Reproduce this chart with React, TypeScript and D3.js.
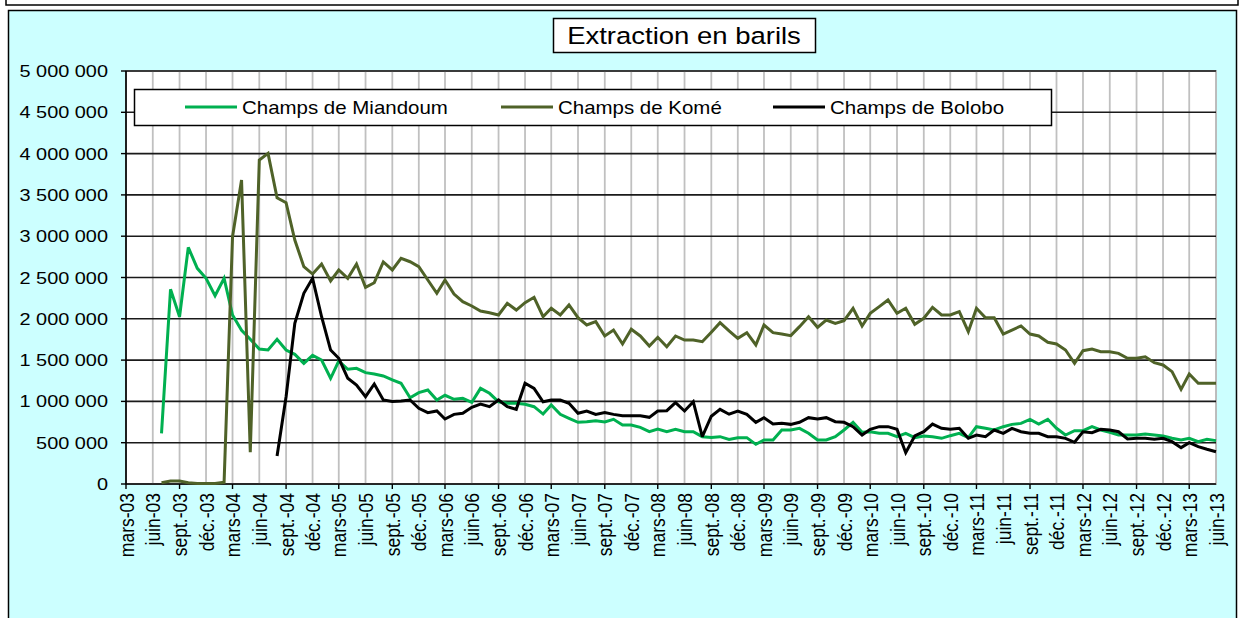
import React from 'react';
import * as d3 from 'd3';

// monthly extraction, in barrels, from mars-03 to juin-13 (null = no production)
const miandoum = [
  null, null, null, null, 614000, 2357000, 2025000, 2865000, 2611000, 2490000,
  2280000, 2490000, 2046000, 1861000, 1752000, 1634000, 1622000, 1752000, 1622000, 1570000,
  1461000, 1558000, 1501000, 1280000, 1489000, 1389000, 1401000, 1348000, 1332000, 1308000,
  1260000, 1219000, 1045000, 1106000, 1138000, 1017000, 1074000, 1025000, 1037000, 989000,
  1158000, 1098000, 996000, 977000, 977000, 965000, 936000, 847000, 956000, 843000,
  795000, 747000, 754000, 767000, 751000, 783000, 714000, 714000, 686000, 633000,
  666000, 633000, 662000, 633000, 633000, 573000, 563000, 573000, 540000, 561000,
  561000, 480000, 533000, 533000, 654000, 654000, 674000, 614000, 533000, 533000,
  573000, 654000, 747000, 626000, 633000, 614000, 614000, 573000, 614000, 561000,
  581000, 573000, 553000, 585000, 614000, 561000, 694000, 674000, 654000, 694000,
  722000, 734000, 783000, 726000, 783000, 674000, 593000, 646000, 646000, 694000,
  654000, 626000, 593000, 593000, 593000, 605000, 593000, 581000, 553000, 533000,
  553000, 512000, 541000, 525000,
];

const kome = [
  null, null, null, null, 16000, 35000, 35000, 15000, 5000, 5000,
  5000, 20000, 2994000, 3680000, 384000, 3922000, 4003000, 3466000, 3406000, 2954000,
  2631000, 2542000, 2663000, 2458000, 2591000, 2490000, 2663000, 2381000, 2437000, 2688000,
  2591000, 2732000, 2691000, 2631000, 2470000, 2309000, 2470000, 2300000, 2207000, 2155000,
  2094000, 2074000, 2046000, 2187000, 2106000, 2195000, 2260000, 2025000, 2127000, 2046000,
  2167000, 2013000, 1925000, 1965000, 1792000, 1864000, 1695000, 1873000, 1792000, 1671000,
  1776000, 1662000, 1792000, 1743000, 1743000, 1723000, 1838000, 1953000, 1854000, 1764000,
  1832000, 1683000, 1925000, 1832000, 1816000, 1796000, 1905000, 2025000, 1897000, 1985000,
  1945000, 1977000, 2127000, 1913000, 2066000, 2147000, 2228000, 2066000, 2127000, 1933000,
  2006000, 2139000, 2046000, 2046000, 2086000, 1844000, 2127000, 2013000, 2013000, 1816000,
  1864000, 1913000, 1816000, 1792000, 1715000, 1695000, 1622000, 1461000, 1614000, 1634000,
  1602000, 1602000, 1582000, 1522000, 1522000, 1541000, 1469000, 1441000, 1360000, 1146000,
  1332000, 1219000, 1219000, 1219000,
];

const bolobo = [
  null, null, null, null, null, null, null, null, null, null,
  null, null, null, null, null, null, null, 339000, 1057000, 1945000,
  2309000, 2490000, 2025000, 1622000, 1522000, 1280000, 1199000, 1057000, 1211000, 1017000,
  1000000, 1005000, 1017000, 916000, 864000, 884000, 787000, 843000, 856000, 928000,
  968000, 936000, 1017000, 936000, 904000, 1219000, 1158000, 996000, 1017000, 1017000,
  977000, 856000, 884000, 843000, 864000, 843000, 827000, 827000, 827000, 807000,
  884000, 888000, 985000, 884000, 996000, 573000, 820000, 904000, 845000, 884000,
  843000, 747000, 803000, 726000, 734000, 722000, 747000, 803000, 787000, 803000,
  754000, 747000, 694000, 593000, 662000, 694000, 694000, 662000, 379000, 581000,
  633000, 726000, 674000, 662000, 674000, 553000, 593000, 573000, 654000, 614000,
  674000, 633000, 614000, 614000, 573000, 573000, 553000, 505000, 633000, 622000,
  662000, 654000, 633000, 545000, 553000, 553000, 541000, 553000, 512000, 440000,
  500000, 452000, 420000, 391000,
];

const seriesNames = ['Champs de Miandoum', 'Champs de Komé', 'Champs de Bolobo'];
const seriesColors = ['#00B050', '#4F6228', '#000000'];
const monthNames = ['janv.', 'févr.', 'mars', 'avr.', 'mai', 'juin', 'juil.', 'août', 'sept.', 'oct.', 'nov.', 'déc.'];
const yTicks = [0, 500000, 1000000, 1500000, 2000000, 2500000, 3000000, 3500000, 4000000, 4500000, 5000000];
const title = 'Extraction en barils';

const STRETCH = 1.17;

const App = () => {
  const ref = React.useRef(null);
  React.useEffect(() => {
    const W = 1240, H = 618;
    const left = 126, right = 1216, top = 71, bottom = 484;
    const font = 'Arial, "Liberation Sans", sans-serif';

    const root = d3.select(ref.current);
    root.selectAll('*').remove();
    const svg = root.append('svg')
      .attr('width', W)
      .attr('height', H)
      .style('display', 'block');

    const start = new Date(2003, 2, 1);
    const end = new Date(2013, 5, 1);
    const stop = d3.timeMonth.offset(end, 1);
    const months = d3.timeMonth.range(start, stop);

    const x = d3.scaleTime().domain([start, end]).range([left, right]);
    const y = d3.scaleLinear().domain([0, 5000000]).range([bottom, top]);

    const fr = d3.formatLocale({ decimal: ',', thousands: '\u00a0', grouping: [3], currency: ['', ' €'] });
    const fmt = fr.format(',');
    const fmtMonth = (d) => `${monthNames[d.getMonth()]}-${String(d.getFullYear()).slice(2)}`;

    // outer frames
    svg.append('rect').attr('x', 6).attr('y', -20).attr('width', 1232).attr('height', 25)
      .attr('fill', '#fff').attr('stroke', '#000').attr('stroke-width', 1.5);
    svg.append('rect').attr('x', 8.5).attr('y', 10.5).attr('width', 1228).attr('height', 650)
      .attr('fill', '#CCFFFF').attr('stroke', '#000').attr('stroke-width', 1.5);

    // plot area
    svg.append('rect').attr('x', left).attr('y', top).attr('width', right - left).attr('height', bottom - top)
      .attr('fill', '#fff').attr('stroke', '#808080').attr('stroke-width', 1.5);

    // quarters counted from mars-03, half-years for the axis ticks
    const quarters = d3.timeMonth.range(start, stop, 3);
    const halves = d3.timeMonth.range(start, stop, 6);

    svg.append('g').selectAll('line')
      .data(quarters.filter((d) => +d !== +start))
      .join('line')
      .attr('x1', (d) => x(d)).attr('x2', (d) => x(d))
      .attr('y1', top).attr('y2', bottom)
      .attr('stroke', '#C0C0C0').attr('stroke-width', 1.8);

    svg.append('g').selectAll('line')
      .data(yTicks.filter((v) => v > 0))
      .join('line')
      .attr('x1', left).attr('x2', right)
      .attr('y1', (d) => y(d)).attr('y2', (d) => y(d))
      .attr('stroke', '#1a1a1a').attr('stroke-width', 1.6);

    // axes
    svg.append('line').attr('x1', left).attr('x2', left).attr('y1', top).attr('y2', bottom)
      .attr('stroke', '#000').attr('stroke-width', 1.6);
    svg.append('line').attr('x1', left).attr('x2', right).attr('y1', bottom).attr('y2', bottom)
      .attr('stroke', '#000').attr('stroke-width', 1.6);

    svg.append('g').selectAll('line')
      .data(yTicks)
      .join('line')
      .attr('x1', left - 5).attr('x2', left)
      .attr('y1', (d) => y(d)).attr('y2', (d) => y(d))
      .attr('stroke', '#000').attr('stroke-width', 1.4);

    svg.append('g').selectAll('line')
      .data(halves)
      .join('line')
      .attr('x1', (d) => x(d)).attr('x2', (d) => x(d))
      .attr('y1', bottom).attr('y2', bottom + 5)
      .attr('stroke', '#000').attr('stroke-width', 1.4);

    svg.append('g').selectAll('text')
      .data(yTicks)
      .join('text')
      .attr('transform', (d) => `translate(108,${y(d) + 6}) scale(${STRETCH},1)`)
      .attr('text-anchor', 'end')
      .style('font-family', font)
      .style('font-size', '17px')
      .attr('fill', '#000')
      .text((d) => fmt(d));

    svg.append('g').selectAll('text')
      .data(quarters)
      .join('text')
      .attr('transform', (d) => `translate(${x(d)},493) scale(1.2,1) rotate(-90)`)
      .attr('text-anchor', 'end')
      .attr('dy', '0.36em')
      .style('font-family', font)
      .style('font-size', '17.5px')
      .attr('fill', '#000')
      .text((d) => fmtMonth(d));

    // series
    const allSeries = [miandoum, kome, bolobo];
    const line = d3.line()
      .defined((d) => d[1] != null)
      .x((d) => x(d[0]))
      .y((d) => y(d[1]));

    svg.append('g').selectAll('path')
      .data(allSeries)
      .join('path')
      .attr('d', (s) => line(months.map((m, i) => [m, s[i]])))
      .attr('fill', 'none')
      .attr('stroke', (_, i) => seriesColors[i])
      .attr('stroke-width', 3)
      .attr('stroke-linejoin', 'miter')
      .attr('stroke-miterlimit', 3);

    // legend
    const lg = svg.append('g');
    lg.append('rect').attr('x', 134.5).attr('y', 89.5).attr('width', 917).attr('height', 36)
      .attr('fill', '#fff').attr('stroke', '#000').attr('stroke-width', 1.5);
    const legendX = [185, 501, 773];
    seriesNames.forEach((name, i) => {
      lg.append('line')
        .attr('x1', legendX[i]).attr('x2', legendX[i] + 52)
        .attr('y1', 107).attr('y2', 107)
        .attr('stroke', seriesColors[i]).attr('stroke-width', 3);
      lg.append('text')
        .attr('transform', `translate(${legendX[i] + 57},113.5) scale(${STRETCH},1)`)
        .style('font-family', font)
        .style('font-size', '17.5px')
        .attr('fill', '#000')
        .text(name);
    });

    // title
    svg.append('rect').attr('x', 553.5).attr('y', 18.5).attr('width', 262).attr('height', 34)
      .attr('fill', '#fff').attr('stroke', '#000').attr('stroke-width', 1.5);
    svg.append('text')
      .attr('transform', `translate(684,43.5) scale(${STRETCH},1)`)
      .attr('text-anchor', 'middle')
      .style('font-family', font)
      .style('font-size', '23.5px')
      .attr('fill', '#000')
      .text(title);
  }, []);

  return <div ref={ref} style={{ position: 'fixed', left: 0, top: 0 }} />;
};

export default App;
